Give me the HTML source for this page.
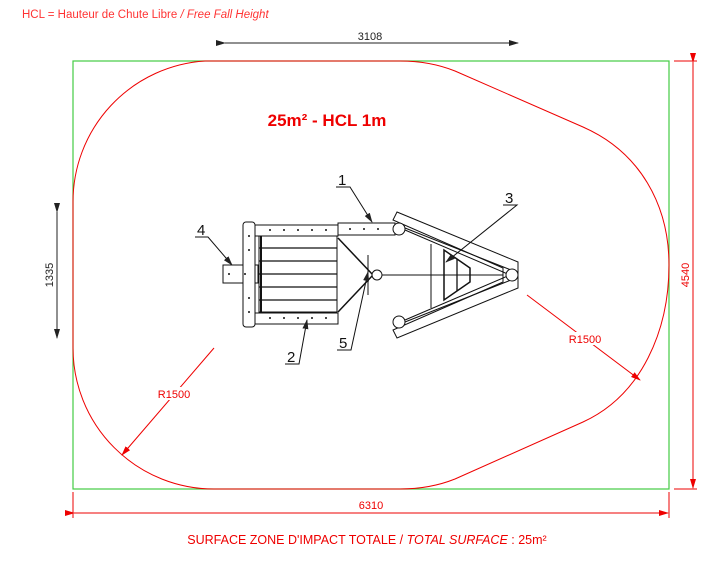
<!DOCTYPE html>
<html><head><meta charset="utf-8"><style>
html,body{margin:0;padding:0;background:#fff;width:720px;height:568px;overflow:hidden}
svg{display:block}
text{font-family:"Liberation Sans",sans-serif}
</style></head><body>
<svg width="720" height="568" viewBox="0 0 720 568" xmlns="http://www.w3.org/2000/svg">
<defs>
<marker id="ab" markerWidth="10" markerHeight="6" refX="9" refY="3" orient="auto" markerUnits="userSpaceOnUse"><path d="M0,0 L10,3 L0,6 z" fill="#222"/></marker>
<marker id="ar" markerWidth="10" markerHeight="6" refX="9" refY="3" orient="auto" markerUnits="userSpaceOnUse"><path d="M0,0 L10,3 L0,6 z" fill="#e00"/></marker>
</defs>
<text x="22" y="18" font-size="11.5" fill="#f33">HCL = Hauteur de Chute Libre <tspan font-style="italic">/ Free Fall Height</tspan></text>
<rect x="73" y="61" width="596" height="428" fill="none" stroke="#4c4" stroke-width="1.2"/>
<path d="M205,61 L400,61 Q430,61 455,71 L583,127 C640,152 669,205 669,265 C669,330 642,395 583,422 L455,479 Q430,489 400,489 L214,489 A141 141 0 0 1 73,348 L73,202 A141 141 0 0 1 205,61 Z" fill="none" stroke="#e00" stroke-width="1"/>
<text x="327" y="126" font-size="17" font-weight="bold" fill="#e00" text-anchor="middle">25m² - HCL 1m</text>
<line x1="225" y1="43" x2="518" y2="43" stroke="#222" marker-start="url(#ab)" marker-end="url(#ab)"/>
<text x="370" y="40" font-size="11" fill="#222" text-anchor="middle">3108</text>
<line x1="57" y1="212" x2="57" y2="338" stroke="#222" marker-start="url(#ab)" marker-end="url(#ab)"/>
<text x="53" y="275" font-size="11" fill="#222" text-anchor="middle" transform="rotate(-90 53 275)">1335</text>
<line x1="674" y1="61" x2="697" y2="61" stroke="#e00"/>
<line x1="674" y1="489" x2="697" y2="489" stroke="#e00"/>
<line x1="693" y1="62" x2="693" y2="488" stroke="#e00" marker-start="url(#ar)" marker-end="url(#ar)"/>
<text x="689" y="275" font-size="11" fill="#e00" text-anchor="middle" transform="rotate(-90 689 275)">4540</text>
<line x1="73" y1="492" x2="73" y2="518" stroke="#e00"/>
<line x1="669" y1="492" x2="669" y2="518" stroke="#e00"/>
<line x1="74" y1="513" x2="668" y2="513" stroke="#e00" marker-start="url(#ar)" marker-end="url(#ar)"/>
<text x="371" y="509" font-size="11" fill="#e00" text-anchor="middle">6310</text>
<text x="367" y="544" font-size="12.5" fill="#e00" text-anchor="middle">SURFACE ZONE D'IMPACT TOTALE / <tspan font-style="italic">TOTAL SURFACE</tspan> : 25m²</text>
<line x1="214" y1="348" x2="122" y2="455" stroke="#e00" marker-end="url(#ar)"/>
<rect x="155" y="387" width="38" height="13" fill="#fff"/>
<text x="174" y="398" font-size="11" fill="#e00" text-anchor="middle">R1500</text>
<line x1="527" y1="295" x2="640" y2="380" stroke="#e00" marker-end="url(#ar)"/>
<rect x="566" y="332" width="38" height="13" fill="#fff"/>
<text x="585" y="343" font-size="11" fill="#e00" text-anchor="middle">R1500</text>
<g stroke="#111" fill="#fff" stroke-width="1">
<rect x="223" y="265" width="35" height="18"/>
<rect x="243" y="222" width="12" height="105" rx="3"/>
<rect x="259" y="236" width="78" height="76"/>
<g stroke-width="1.3">
<line x1="259" y1="248" x2="337" y2="248"/><line x1="259" y1="261" x2="337" y2="261"/><line x1="259" y1="274" x2="337" y2="274"/><line x1="259" y1="287" x2="337" y2="287"/><line x1="259" y1="300" x2="337" y2="300"/>
</g>
<line x1="261" y1="236" x2="261" y2="312" stroke-width="2"/>
<rect x="255" y="225" width="83" height="11"/>
<rect x="255" y="313" width="83" height="11"/>
<rect x="338" y="223" width="57" height="12"/>
<line x1="338" y1="238" x2="373" y2="275" stroke-width="1.5"/>
<line x1="338" y1="312" x2="373" y2="275" stroke-width="1.5"/>
<line x1="368" y1="255" x2="368" y2="295"/>
<line x1="378" y1="275" x2="512" y2="275"/>
<circle cx="377" cy="275" r="5"/>
<path d="M397,212 L518,262 L518,288 L397,338 L393,330 L503,282 L503,268 L393,220 Z" fill="#fff"/>
<line x1="405" y1="228" x2="511" y2="270"/>
<line x1="405" y1="322" x2="511" y2="280"/>
<line x1="431" y1="244" x2="431" y2="308"/>
<path d="M444,250 L444,300 L470,282 L470,268 Z" stroke-width="1.5" fill="none"/>
<line x1="457" y1="259" x2="457" y2="291" stroke-width="1.3"/>
<line x1="405" y1="230" x2="510" y2="275"/>
<line x1="405" y1="320" x2="510" y2="275"/>
<circle cx="399" cy="229" r="6"/>
<circle cx="399" cy="322" r="6"/>
<circle cx="512" cy="275" r="6"/>
</g>
<g fill="#111">
<circle cx="270" cy="230" r="1"/><circle cx="284" cy="230" r="1"/><circle cx="298" cy="230" r="1"/><circle cx="312" cy="230" r="1"/><circle cx="326" cy="230" r="1"/>
<circle cx="270" cy="318" r="1"/><circle cx="284" cy="318" r="1"/><circle cx="298" cy="318" r="1"/><circle cx="312" cy="318" r="1"/><circle cx="326" cy="318" r="1"/>
<circle cx="350" cy="229" r="1"/><circle cx="364" cy="229" r="1"/><circle cx="378" cy="229" r="1"/>
<circle cx="249" cy="236" r="1"/><circle cx="249" cy="250" r="1"/><circle cx="249" cy="298" r="1"/><circle cx="249" cy="312" r="1"/><circle cx="229" cy="274" r="1"/><circle cx="245" cy="274" r="1"/>
</g>
<g stroke="#111" fill="none">
<path d="M336,187 L350,187 L372,222" marker-end="url(#ab)"/>
<path d="M285,364 L299,364 L307,320" marker-end="url(#ab)"/>
<path d="M503,205 L517,205 L446,262" marker-end="url(#ab)"/>
<path d="M195,237 L208,237 L232,265" marker-end="url(#ab)"/>
<path d="M337,350 L351,350 L368,272" marker-end="url(#ab)"/>
</g>
<g font-size="15" fill="#111">
<text x="338" y="185">1</text>
<text x="287" y="362">2</text>
<text x="505" y="203">3</text>
<text x="197" y="235">4</text>
<text x="339" y="348">5</text>
</g>
</svg>
</body></html>
